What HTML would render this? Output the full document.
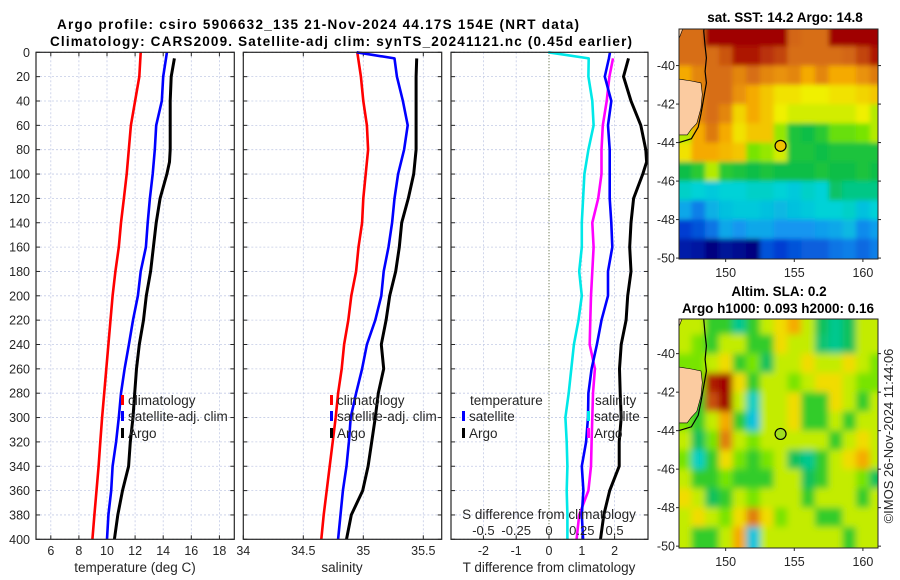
<!DOCTYPE html>
<html><head><meta charset="utf-8"><style>
html,body{margin:0;padding:0;background:#fff;}
svg{display:block;font-family:"Liberation Sans","DejaVu Sans",sans-serif;}
</style></head><body>
<svg id="chart" width="900" height="580" viewBox="0 0 900 580" xmlns="http://www.w3.org/2000/svg">
<defs>
<filter id="blurSla" x="-5%" y="-5%" width="110%" height="110%"><feGaussianBlur stdDeviation="3.5"/></filter>
<filter id="blurSst" x="-5%" y="-5%" width="110%" height="110%"><feGaussianBlur stdDeviation="2.5"/></filter>
</defs>
<g font-weight="bold" font-size="13.5" fill="#000">
<text x="318" y="29" text-anchor="middle" textLength="522">Argo profile: csiro 5906632_135 21-Nov-2024 44.17S 154E (NRT data)</text>
<text x="341" y="46" text-anchor="middle" textLength="582">Climatology: CARS2009. Satellite-adj clim: synTS_20241121.nc (0.45d earlier)</text>
</g>
<g id="plots"></g>
</svg>
<script>
// ---- profile data ----
const climDepth = [0,20,40,60,80,100,120,140,160,180,200,220,240,260,280,300,320,340,360,380,400];
const climT = [12.4,12.3,12.0,11.7,11.55,11.4,11.2,11.0,10.84,10.6,10.4,10.25,10.1,9.95,9.8,9.65,9.52,9.4,9.25,9.1,8.96];
const climS = [34.95,34.98,35.0,35.03,35.04,35.02,35.0,34.99,34.96,34.94,34.90,34.875,34.84,34.82,34.79,34.77,34.745,34.72,34.695,34.67,34.65];
const satDepth = [0,5,20,40,60,80,100,120,140,160,180,200,220,240,260,280,300,320,340,360,380,400];
const satT = [14.26,14.2,14.0,13.9,13.5,13.4,13.25,13.05,12.9,12.77,12.4,12.2,11.85,11.56,11.25,11.0,10.84,10.65,10.4,10.3,10.1,10.0];
const satS = [34.945,35.26,35.28,35.33,35.37,35.34,35.29,35.26,35.24,35.21,35.17,35.15,35.10,35.03,34.99,34.94,34.895,34.88,34.86,34.83,34.81,34.79];
const argoDepth = [5,20,40,60,80,90,100,120,140,160,180,200,220,240,260,280,300,320,340,360,380,400];
const argoT = [14.8,14.57,14.5,14.5,14.5,14.45,14.26,13.78,13.5,13.3,13.1,12.8,12.6,12.3,12.1,11.97,11.85,11.66,11.54,11.1,10.77,10.53];
const argoS = [35.445,35.44,35.44,35.44,35.44,35.43,35.42,35.375,35.32,35.30,35.27,35.22,35.19,35.15,35.17,35.125,35.10,35.07,35.04,34.995,34.90,34.86];
const depthTicks = [0,20,40,60,80,100,120,140,160,180,200,220,240,260,280,300,320,340,360,380,400];
const tTicks = [6,8,10,12,14,16,18];
const sTicks = [34,34.5,35,35.5];
const sTickLabels = ['34','34.5','35','35.5'];
const dTicks = [-2,-1,0,1,2];
const dsTicks = [-0.5,-0.25,0,0.25,0.5];
const dsTickLabels = ['-0.5','-0.25','0','0.25','0.5'];
// ---- map data (1-degree cells, lon 146.5.., rows lat -38..-50) ----
const sstRows = [
[14.5,14.5,15.8,16,16,16,16,15.8,14.6,14.5,14.5,15.8,16,16,16],
[14.5,14.5,14.5,14.8,15.5,15.5,15.2,15,14.5,14.5,14.5,14.5,14.6,15,15.5],
[14,14.3,14.5,14.5,14.3,14.5,14.3,14.2,14.3,14,14.3,14,14,14.2,14.4],
[13.8,14.3,14.5,14.5,14.2,14,13.8,13.6,13.6,13.5,13.5,13.6,13.6,13.7,13.8],
[13.8,14.3,14.5,14.3,13.7,14,13.8,13.5,13.4,13.4,13.4,13.4,13.4,13.5,13.3],
[13.3,14,14.4,14,13.6,13.8,13.8,13.2,12.5,12.4,12.6,13,13,13.1,13.3],
[13.6,14,14,13.9,13.8,13.1,13.2,13.4,12.5,12.5,12.4,12.5,12.5,12.5,12.5],
[12.4,12.6,13.3,12.6,12.5,12.4,12.5,12.4,12.4,12.4,12.5,12.4,12.4,12.5,12.4],
[11.6,11.5,11.4,11.5,11.5,11.6,11.6,11.5,11.4,11.6,11.5,12.2,12,12,12],
[11,10.6,11.1,11.3,11.4,11.4,11.3,11.2,11.3,11.4,11.5,11.5,11.6,11.3,11.5],
[10,10.2,10.5,11,10.8,11,11,10.8,10.8,10.8,10.9,11,11.2,10.7,10.9],
[9.5,9.4,9,9.3,9.2,9,10.2,10,10.2,10.3,10.3,10.5,10.6,10.4,10.6]];
const slaRows = [
[0.05,0.05,-0.05,-0.05,-0.15,-0.05,0.05,0.1,0.15,0.05,-0.1,-0.15,-0.1,0.05,0.05],
[0.05,0,-0.05,0.05,0.05,-0.05,-0.05,0.1,0.05,0.05,-0.12,-0.15,-0.1,0.05,0.05],
[0,0,0.05,0.1,-0.05,0,-0.1,0.05,0.05,0.1,0.05,0.05,0.1,0.05,0],
[0,0,0.3,0.4,0.1,-0.05,0.05,0.05,0,0.05,0.1,0.1,0.05,0,0],
[0,-0.05,0.25,0.35,0.05,-0.2,0.05,0.05,0.1,-0.05,-0.05,0.1,0.05,-0.05,0.05],
[0,-0.05,0.05,0.15,-0.05,-0.25,0.05,0.05,0.1,-0.05,-0.05,0.05,-0.05,0.05,0.05],
[0.05,-0.1,0,0.2,0.05,0,0.05,0.05,0.05,0.05,0.05,-0.05,0.05,0.1,0.05],
[0,-0.2,-0.05,0.1,0,-0.05,0,0.05,-0.1,-0.15,-0.05,0.05,0.1,0.15,0.05],
[0.05,-0.05,-0.05,0,-0.05,-0.05,-0.05,0.05,0.05,-0.1,-0.05,0.05,0.05,0,-0.1],
[0.1,0.05,-0.1,-0.05,0.05,0,0.05,0.05,0.05,-0.05,0.05,0.05,0.05,-0.05,0.05],
[0.05,0.1,0.05,0,0.1,0.2,0.1,0,0.05,0.05,-0.05,-0.05,0.05,0.05,0.05],
[0.05,-0.05,-0.05,0.05,0.15,-0.25,0.05,0.05,0.05,0.05,0.05,0.05,-0.05,0.05,0.05]];
const lonTicks = [150,155,160];
const latTicks = [-40,-42,-44,-46,-48,-50];
const argoLon = 154, argoLat = -44.17;

const NS='http://www.w3.org/2000/svg';
const root=document.getElementById('plots');
function el(tag,attrs,parent){const e=document.createElementNS(NS,tag);for(const k in attrs)e.setAttribute(k,attrs[k]);(parent||root).appendChild(e);return e;}
const TOP=52.3,BOT=539.3;
const yD=d=>TOP+d*(BOT-TOP)/400;
const xT=t=>107+(t-10)*14.05;
const xS=s=>243.3+(s-34)*120;
const xDiff=v=>549+v*32.8;
function interp(xs,ys,x){for(let i=0;i<xs.length-1;i++){if(x<=xs[i+1]){const f=(x-xs[i])/(xs[i+1]-xs[i]);return ys[i]+f*(ys[i+1]-ys[i]);}}return ys[ys.length-1];}

function panel(x0,x1,name){
  const g=el('g',{});
  
  
  el('rect',{x:x0,y:TOP,width:x1-x0,height:BOT-TOP,fill:'#fff'},g);
  depthTicks.forEach(d=>{
    const l=el('line',{x1:x0,x2:x1,y1:yD(d),y2:yD(d),stroke:'#c4cbe6','stroke-width':0.8,'stroke-dasharray':'2,2'},g);
    
    
    el('line',{x1:x0,x2:x0+4,y1:yD(d),y2:yD(d),stroke:'#262626'},g);
    el('line',{x1:x1-4,x2:x1,y1:yD(d),y2:yD(d),stroke:'#262626'},g);
  });
  return g;
}
function frame(g,x0,x1){el('rect',{x:x0,y:TOP,width:x1-x0,height:BOT-TOP,fill:'none',stroke:'#262626','stroke-width':1.2},g);}
function vgrid(g,x,dotted){
  const l=el('line',{x1:x,x2:x,y1:TOP,y2:BOT,stroke:dotted?'#4a5a2a':'#c4cbe6','stroke-width':dotted?1:0.8,'stroke-dasharray':dotted?'1,2':'2,2'},g);
  
  
}
function line(g,xs,ds,color,w,name){
  const p=el('polyline',{points:xs.map((v,i)=>v.toFixed(1)+','+yD(ds[i]).toFixed(1)).join(' '),fill:'none',stroke:color,'stroke-width':w,'stroke-linejoin':'round'},g);
  
  
}
function txt(g,x,y,s,opt){const t=el('text',Object.assign({x:x,y:y,'font-size':12.5,fill:'#262626'},opt||{}),g);t.textContent=s;return t;}
function legend(g,x,y,color,label){
  el('rect',{x:x,y:y-6,width:3,height:10,fill:color},g);
  const t=txt(g,x+7,y+4,label,{'font-size':13.5});
  
  
}

// Panel 1 temperature
const g1=panel(36,234.3,'temperature-panel');
tTicks.forEach(t=>{vgrid(g1,xT(t));const lb=txt(g1,xT(t),555,String(t),{'text-anchor':'middle'});
 el('line',{x1:xT(t),x2:xT(t),y1:BOT-4,y2:BOT,stroke:'#262626'},g1);el('line',{x1:xT(t),x2:xT(t),y1:TOP,y2:TOP+4,stroke:'#262626'},g1);});
depthTicks.forEach(d=>{const lb=txt(g1,30,yD(d)+4.5,String(d),{'text-anchor':'end'});});
line(g1,climT.map(xT),climDepth,'#ff0000',2.6,'temp-climatology-line');
line(g1,satT.map(xT),satDepth,'#0000ff',2.6,'temp-satellite-line');
line(g1,argoT.map(xT),argoDepth,'#000',3,'temp-argo-line');
legend(g1,121,401,'#ff0000','climatology');
legend(g1,121,417,'#0000ff','satellite-adj. clim');
legend(g1,121,434,'#000','Argo');
frame(g1,36,234.3);
const at1=txt(g1,135,572,'temperature (deg C)',{'text-anchor':'middle','font-size':13.5});


// Panel 2 salinity
const g2=panel(243.3,441.7,'salinity-panel');
sTicks.forEach((s,i)=>{if(i>0)vgrid(g2,xS(s));const lb=txt(g2,xS(s),555,sTickLabels[i],{'text-anchor':'middle'});
 el('line',{x1:xS(s),x2:xS(s),y1:BOT-4,y2:BOT,stroke:'#262626'},g2);el('line',{x1:xS(s),x2:xS(s),y1:TOP,y2:TOP+4,stroke:'#262626'},g2);});
line(g2,climS.map(xS),climDepth,'#ff0000',2.6,'sal-climatology-line');
line(g2,satS.map(xS),satDepth,'#0000ff',2.6,'sal-satellite-line');
line(g2,argoS.map(xS),argoDepth,'#000',3,'sal-argo-line');
legend(g2,330,401,'#ff0000','climatology');
legend(g2,330,417,'#0000ff','satellite-adj. clim');
legend(g2,330,434,'#000','Argo');
frame(g2,243.3,441.7);
const at2=txt(g2,342,572,'salinity',{'text-anchor':'middle','font-size':13.5});


// Panel 3 differences
const g3=panel(451,648,'difference-panel');
dTicks.forEach(v=>{vgrid(g3,xDiff(v),v===0);const lb=txt(g3,xDiff(v),555,String(v),{'text-anchor':'middle'});
 el('line',{x1:xDiff(v),x2:xDiff(v),y1:BOT-4,y2:BOT,stroke:'#262626'},g3);});
const satTd=satT.map((v,i)=>v-interp(climDepth,climT,satDepth[i]));
const argoTd=argoT.map((v,i)=>v-interp(climDepth,climT,argoDepth[i]));
const satSd=satS.map((v,i)=>v-interp(climDepth,climS,satDepth[i]));
const argoSd=argoS.map((v,i)=>v-interp(climDepth,climS,argoDepth[i]));
line(g3,satSd.map(v=>xDiff(v*4)),satDepth,'#00e8e8',2.6,'sal-diff-satellite-line');
line(g3,argoSd.map(v=>xDiff(v*4)),argoDepth,'#ff00ff',2.6,'sal-diff-argo-line');
line(g3,satTd.map(xDiff),satDepth,'#0000ff',2.6,'temp-diff-satellite-line');
line(g3,argoTd.map(xDiff),argoDepth,'#000',3,'temp-diff-argo-line');
txt(g3,470,405,'temperature',{'font-size':13.5});
legend(g3,462,417,'#0000ff','satellite');
legend(g3,462,434,'#000','Argo');
txt(g3,595,405,'salinity',{'font-size':13.5});
legend(g3,587,417,'#00e8e8','satellite');
legend(g3,587,434,'#ff00ff','Argo');
const sat=txt(g3,549,519,'S difference from climatology',{'text-anchor':'middle','font-size':13.5});

dsTicks.forEach((v,i)=>{const lb=txt(g3,xDiff(v*4),535,dsTickLabels[i],{'text-anchor':'middle','font-size':13});});
frame(g3,451,648);
const at3=txt(g3,549,572,'T difference from climatology',{'text-anchor':'middle','font-size':13.5});


// ---- maps ----
const palStops=[[0,[0,0,128]],[0.11,[0,60,210]],[0.22,[20,150,240]],[0.33,[0,210,215]],[0.45,[10,190,70]],[0.56,[120,228,0]],[0.66,[240,240,0]],[0.76,[245,170,0]],[0.86,[215,110,20]],[1,[160,0,0]]];
function pal(t){t=Math.max(0,Math.min(1,t));for(let i=0;i<palStops.length-1;i++){const a=palStops[i],b=palStops[i+1];if(t<=b[0]){const f=(t-a[0])/(b[0]-a[0]);return 'rgb('+[0,1,2].map(k=>Math.round(a[1][k]+f*(b[1][k]-a[1][k]))).join(',')+')';}}return 'rgb(160,0,0)';}
const sstKnots=[9,10,10.8,11.5,12.4,13.1,13.5,14.0,14.5,15.8];
const slaKnots=[-0.6,-0.45,-0.35,-0.22,-0.08,0,0.08,0.15,0.22,0.33];
function knotMap(k,v){if(v<=k[0])return 0;for(let i=0;i<k.length-1;i++){if(v<=k[i+1])return palStops[i][0]+(v-k[i])/(k[i+1]-k[i])*(palStops[i+1][0]-palStops[i][0]);}return 1;}
function drawMap(name,x0,x1,yTop,yBot,latTopVal,rows,cmap,circleFill,blurId){
  const g=el('g',{});
  
  
  const lonL=146.6,lonR=161.1;
  const xL=lon=>x0+(lon-lonL)*(x1-x0)/(lonR-lonL);
  const pxPerLat=19.25;
  const yL=lat=>yTop+(latTopVal-lat)*pxPerLat;
  const cid='clip-'+name;
  const cp=el('clipPath',{id:cid},g);el('rect',{x:x0,y:yTop,width:x1-x0,height:yBot-yTop},cp);
  const clipG=el('g',{'clip-path':'url(#'+cid+')'},g);
  const cells=el('g',{filter:'url(#'+blurId+')'},clipG);
  rows.forEach((row,r)=>row.forEach((v,c)=>{
    const ext=(c===0?-8:0), extR=(c===row.length-1?8:0);
    const topExt=(r===0?12:0), botExt=(r===rows.length-1?10:0);
    const rc=el('rect',{x:(xL(146.5+c)+ext).toFixed(1),y:(yL(-38-r)-topExt).toFixed(1),width:(xL(147.5)-xL(146.5)+0.6-ext+extR).toFixed(1),height:(pxPerLat+0.6+topExt+botExt).toFixed(1),fill:cmap(v)},cells);
    
    
  }));
  const land=[[146.6,-40.7],[147.5,-40.8],[148.2,-40.9],[148.3,-41.5],[148.2,-42.2],[147.9,-43.0],[147.5,-43.3],[147.2,-43.6],[146.6,-43.6]];
  const lp=el('polygon',{points:land.map(p=>xL(p[0]).toFixed(1)+','+yL(p[1]).toFixed(1)).join(' '),fill:'#fbcba0',stroke:'#000','stroke-width':0.6},clipG);
  
  el('polygon',{points:[[146.6,-37.5],[147.2,-37.5],[146.6,-38.6]].map(p=>xL(p[0])+','+yL(p[1])).join(' '),fill:'#fbcba0',stroke:'#000','stroke-width':0.6},clipG);
  const coast=[[148.6,-37.5],[148.4,-38.2],[148.5,-39.0],[148.6,-39.6],[148.5,-40.3],[148.6,-40.9],[148.4,-41.7],[148.2,-42.5],[148.0,-43.2],[147.5,-43.8],[146.6,-44.0]];
  const cl=el('polyline',{points:coast.map(p=>xL(p[0]).toFixed(1)+','+yL(p[1]).toFixed(1)).join(' '),fill:'none',stroke:'#000','stroke-width':1.2},clipG);
  
  const c=el('circle',{cx:xL(argoLon),cy:yL(argoLat),r:5.5,fill:circleFill,stroke:'#000','stroke-width':1.2},g);
  
  el('rect',{x:x0,y:yTop,width:x1-x0,height:yBot-yTop,fill:'none',stroke:'#262626','stroke-width':1},g);
  latTicks.forEach(l=>{
    el('line',{x1:x0,x2:x0-3,y1:yL(l),y2:yL(l),stroke:'#262626'},g);
    el('line',{x1:x1,x2:x1+3,y1:yL(l),y2:yL(l),stroke:'#262626'},g);
    const lb=txt(g,x0-4,yL(l)+4.5,String(l),{'text-anchor':'end','font-size':12.5});
    
  });
  lonTicks.forEach(l=>{
    el('line',{x1:xL(l),x2:xL(l),y1:yBot,y2:yBot+3,stroke:'#262626'},g);
    const lb=txt(g,xL(l),yBot+18,String(l),{'text-anchor':'middle','font-size':12.5});
    
  });
}
drawMap('sst-map',679,878,29,259,-38.1,sstRows,v=>pal(knotMap(sstKnots,v)),'#f0c000','blurSst');
drawMap('sla-map',679,878,319,548,-38.2,slaRows,v=>pal(knotMap(slaKnots,v)),'#a0e020','blurSla');
const mt=el('g',{'font-weight':'bold','font-size':13.5,fill:'#000','text-anchor':'middle'});


txt(mt,785,22,'sat. SST: 14.2 Argo: 14.8',{'font-size':13.5,fill:'#000','text-anchor':'middle'});
txt(mt,779,296,'Altim. SLA: 0.2',{'font-size':13.5,fill:'#000','text-anchor':'middle'});
txt(mt,778,313,'Argo h1000: 0.093 h2000: 0.16',{'font-size':13.5,fill:'#000','text-anchor':'middle'});
const cr=txt(root,0,0,'©IMOS 26-Nov-2024 11:44:06',{'font-size':13,fill:'#262626','text-anchor':'middle',transform:'translate(893,436) rotate(-90)'});


</script>
</body></html>
